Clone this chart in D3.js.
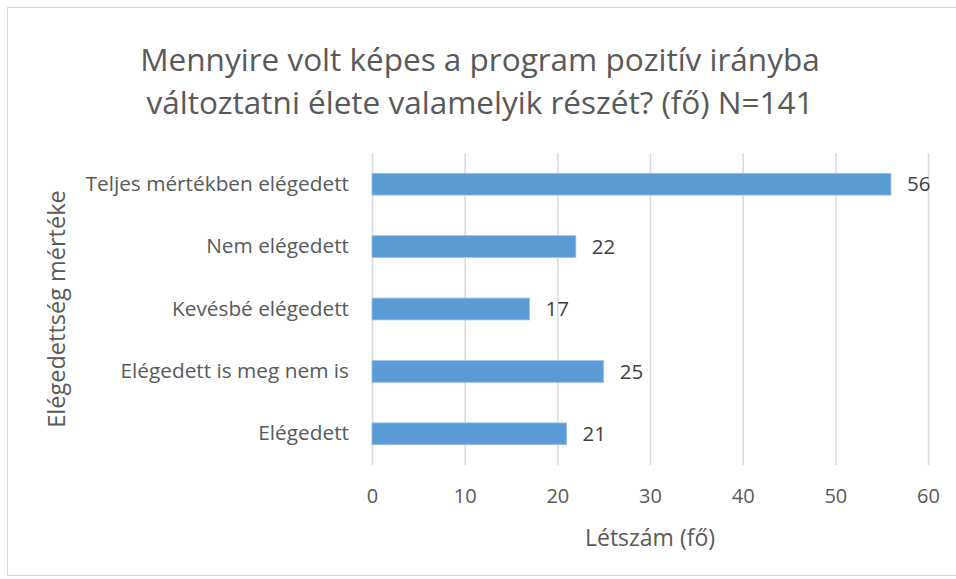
<!DOCTYPE html>
<html>
<head>
<meta charset="utf-8">
<script src="https://cdn.jsdelivr.net/npm/d3@7"></script>
<style>
  body { margin: 0; background: #fff; }
  text { font-family: "Open Sans", sans-serif; }
</style>
</head>
<body>
<svg width="956" height="579"></svg>
<script>
// data
const categories = ['Teljes mértékben elégedett', 'Nem elégedett', 'Kevésbé elégedett', 'Elégedett is meg nem is', 'Elégedett'];
const values = [56, 22, 17, 25, 21];
const xTicks = [0, 10, 20, 30, 40, 50, 60];
const titleLines = ['Mennyire volt képes a program pozitív irányba', 'változtatni élete valamelyik részét? (fő) N=141'];
const xTitle = 'Létszám (fő)';
const yTitle = 'Elégedettség mértéke';

const W = 956, H = 579;
const margin = { top: 153, right: 28, bottom: 114, left: 372 };
const width = W - margin.left - margin.right;
const height = H - margin.top - margin.bottom;

const svg = d3.select('svg');

// chart border
svg.append('rect')
    .attr('x', 7.5).attr('y', 7.5)
    .attr('width', W - 6).attr('height', H - 11)
    .attr('fill', '#fff')
    .attr('stroke', '#d9d9d9')
    .attr('stroke-width', 1);

// title
svg.append('g').selectAll('text')
    .data(titleLines)
    .enter().append('text')
    .attr('x', 480)
    .attr('y', (d, i) => 71 + i * 43)
    .attr('text-anchor', 'middle')
    .attr('fill', '#595959')
    .style('font-size', '31.5px')
    .text(d => d);

let x = d3.scaleLinear()
    .range([0, width])
    .domain([0, 60]);
let y = d3.scaleBand()
    .range([0, height])
    .domain(categories)
    .paddingInner(0.65)
    .paddingOuter(0.325);

let g = svg.append('g')
    .attr('transform', 'translate(' + margin.left + ',' + margin.top + ')');

// vertical gridlines
g.append('g')
    .attr('class', 'grid')
    .call(d3.axisBottom(x).tickValues(xTicks).tickSize(height).tickFormat(''))
    .call(a => a.select('.domain').remove())
    .call(a => a.selectAll('line').attr('stroke', '#d9d9d9').attr('stroke-width', 1.5));

// x axis labels
g.append('g')
    .attr('transform', 'translate(0,' + height + ')')
    .call(d3.axisBottom(x).tickValues(xTicks).tickSize(0).tickPadding(24))
    .call(a => a.select('.domain').remove())
    .call(a => a.selectAll('text')
        .attr('fill', '#595959')
        .style('font-size', '20px')
        .style('font-family', '"Open Sans", sans-serif'));

// y axis labels
g.append('g')
    .call(d3.axisLeft(y).tickSize(0).tickPadding(23))
    .call(a => a.select('.domain').remove())
    .call(a => a.selectAll('text')
        .attr('fill', '#595959')
        .style('font-size', '20.8px')
        .style('font-family', '"Open Sans", sans-serif'));

// bars
g.selectAll('.bar')
    .data(values)
    .enter().append('rect')
    .attr('class', 'bar')
    .attr('x', 0)
    .attr('y', (d, i) => y(categories[i]))
    .attr('width', d => x(d))
    .attr('height', y.bandwidth())
    .attr('fill', '#5b9bd5')
    .attr('stroke', '#9dc3e6')
    .attr('stroke-width', 0.8);

// value labels
g.selectAll('.val')
    .data(values)
    .enter().append('text')
    .attr('class', 'val')
    .attr('x', d => x(d) + 16)
    .attr('y', (d, i) => y(categories[i]) + y.bandwidth() / 2)
    .attr('dy', '0.35em')
    .attr('fill', '#404040')
    .style('font-size', '20.5px')
    .text(d => d);

// axis titles
svg.append('text')
    .attr('x', margin.left + width / 2)
    .attr('y', 546)
    .attr('text-anchor', 'middle')
    .attr('fill', '#595959')
    .style('font-size', '23px')
    .text(xTitle);

svg.append('text')
    .attr('transform', 'translate(65,' + (margin.top + height / 2) + ') rotate(-90)')
    .attr('text-anchor', 'middle')
    .attr('fill', '#595959')
    .style('font-size', '23.5px')
    .text(yTitle);
</script>
</body>
</html>
